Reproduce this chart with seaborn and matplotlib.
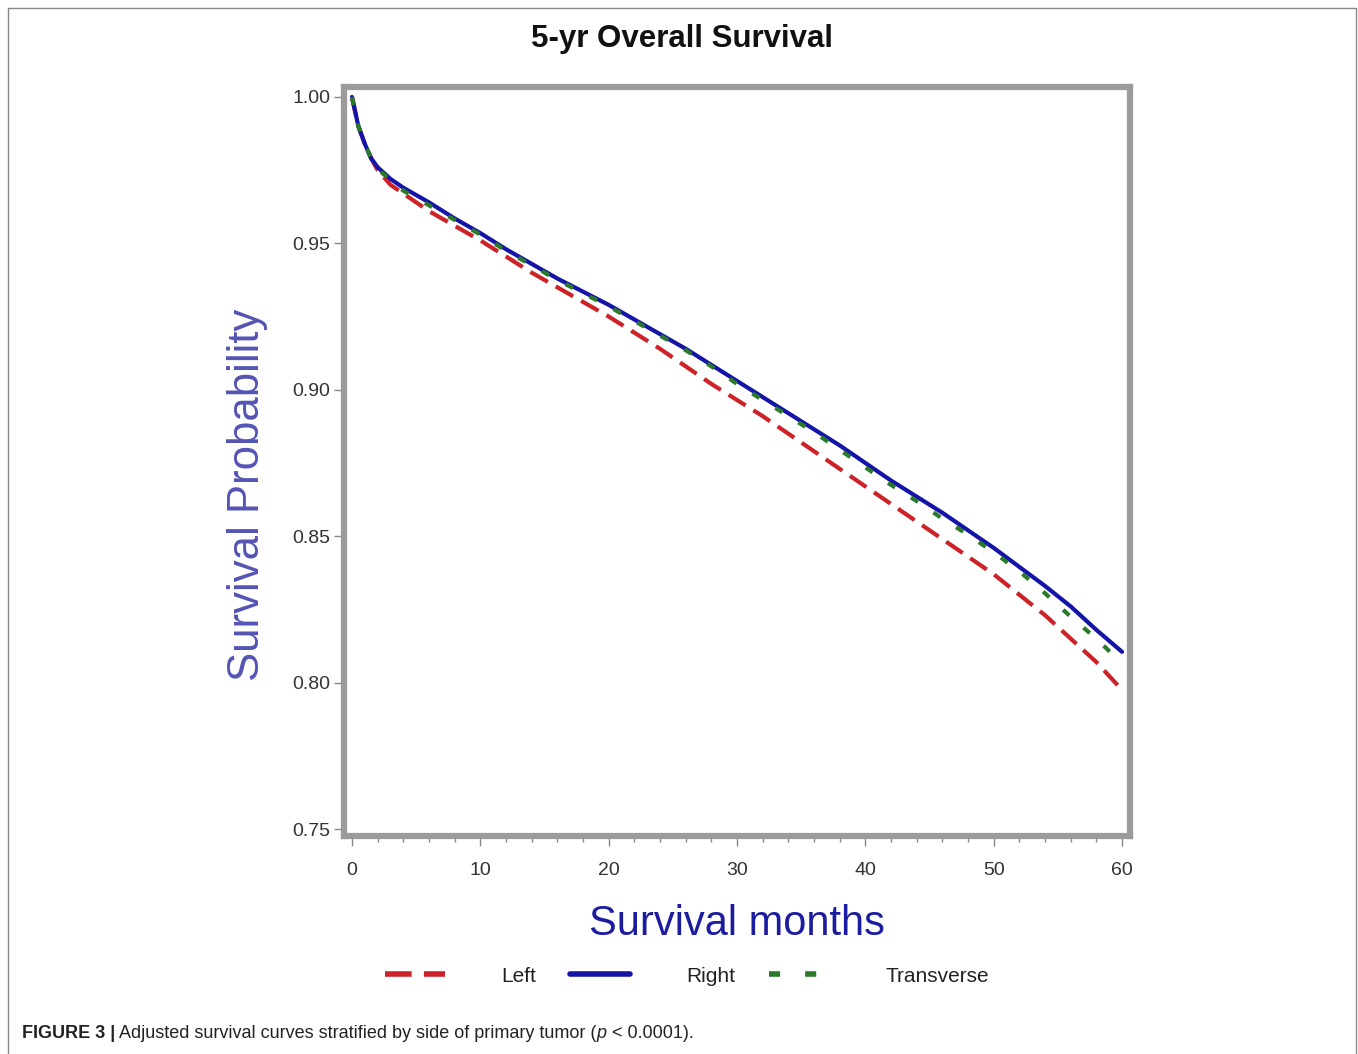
import matplotlib
matplotlib.use("Agg")
import matplotlib.pyplot as plt
from matplotlib.lines import Line2D
from matplotlib.ticker import MultipleLocator, FormatStrFormatter
import pandas as pd
import seaborn as sns

# survival months
months = [0, 0.5, 1, 1.5, 2, 3, 4, 6, 8, 10, 12, 14, 16, 18, 20, 22, 24, 26, 28, 30,
          32, 34, 36, 38, 40, 42, 44, 46, 48, 50, 52, 54, 56, 58, 60]

left = [1.000, 0.990, 0.984, 0.979, 0.975, 0.970, 0.967, 0.961, 0.956, 0.951,
        0.9455, 0.940, 0.935, 0.930, 0.925, 0.9195, 0.914, 0.908, 0.902, 0.8965,
        0.891, 0.885, 0.879, 0.873, 0.867, 0.861, 0.855, 0.849, 0.843, 0.837,
        0.830, 0.823, 0.815, 0.807, 0.7975]
right = [1.000, 0.990, 0.984, 0.979, 0.976, 0.972, 0.969, 0.964, 0.9585, 0.9535,
         0.948, 0.943, 0.938, 0.9335, 0.929, 0.924, 0.919, 0.914, 0.9085, 0.903,
         0.8975, 0.892, 0.8865, 0.881, 0.875, 0.869, 0.8635, 0.858, 0.852, 0.846,
         0.8395, 0.833, 0.826, 0.818, 0.8105]
transverse = [1.000, 0.990, 0.984, 0.979, 0.9755, 0.9715, 0.968, 0.963, 0.958, 0.953,
              0.9475, 0.9425, 0.9375, 0.933, 0.9285, 0.9235, 0.9185, 0.9135, 0.908, 0.902,
              0.8965, 0.891, 0.8855, 0.8795, 0.8735, 0.8675, 0.862, 0.856, 0.8505, 0.8445,
              0.838, 0.8305, 0.8225, 0.815, 0.8065]

sides = ["Left", "Right", "Transverse"]
colors = {"Left": "#cc2228", "Right": "#1414a8", "Transverse": "#2a7a2a"}
dashes = {"Left": (4.8, 2.2), "Right": "", "Transverse": (2, 4.5)}

df = pd.DataFrame({
    "month": months * 3,
    "surv": left + right + transverse,
    "Side": ["Left"] * len(months) + ["Right"] * len(months) + ["Transverse"] * len(months),
})

sns.set_theme(style="white")
plt.rcParams["font.family"] = ["Liberation Sans", "DejaVu Sans"]

fig = plt.figure(figsize=(13.58, 10.54), dpi=100)
ax = fig.add_axes([0.2533, 0.2068, 0.5788, 0.7107])

sns.lineplot(data=df, x="month", y="surv", hue="Side", style="Side",
             palette=colors, dashes=dashes, linewidth=3, legend=False, ax=ax)

ax.set_xlim(-0.62, 60.62)
ax.set_ylim(0.7476, 1.0034)
ax.xaxis.set_major_locator(MultipleLocator(10))
ax.xaxis.set_minor_locator(MultipleLocator(2))
ax.yaxis.set_major_locator(MultipleLocator(0.05))
ax.yaxis.set_major_formatter(FormatStrFormatter("%.2f"))
ax.tick_params(axis="both", which="major", direction="out", length=7, width=1,
               color="#888888", labelsize=14, labelcolor="#333333")
ax.tick_params(axis="y", which="major", left=True, pad=3)
ax.tick_params(axis="x", which="major", bottom=True, pad=12)
ax.tick_params(axis="x", which="minor", direction="out", length=4, width=1,
               color="#888888", bottom=True)
for sp in ax.spines.values():
    sp.set_color("#9a9c9c")
    sp.set_linewidth(4.5)

ax.set_xlabel("Survival months", fontsize=30, color="#1c1ca0", labelpad=18)
ax.set_ylabel("Survival Probability", fontsize=31.5, color="#5454b4")
ax.yaxis.set_label_coords(-0.097, 0.455)
fig.text(0.502, 0.963, "5-yr Overall Survival", ha="center", va="center",
         fontsize=22.5, fontweight="bold", color="#111111")

handles = [Line2D([], [], color=colors[s], linewidth=4,
                  linestyle=(0, dashes[s]) if dashes[s] else "-") for s in sides]
fig.legend(handles, sides, loc="center", bbox_to_anchor=(0.506, 0.074), ncol=3,
           frameon=False, fontsize=15, handlelength=2.9, handletextpad=2.7,
           columnspacing=1.6, labelcolor="#222222")

# figure border (left, top, right) and caption
for xs, ys in [([8, 8], [1054, 8]), ([8, 1356], [8, 8]), ([1356, 1356], [8, 1054])]:
    fig.add_artist(Line2D([x / 1358 for x in xs], [1 - y / 1054 for y in ys],
                          transform=fig.transFigure, color="#888888", linewidth=1))
t1 = fig.text(22 / 1358, 1 - 1033 / 1054, "FIGURE 3 |", fontsize=13,
              fontweight="bold", va="center", color="#222222")
t2 = ax.annotate(" Adjusted survival curves stratified by side of primary tumor (",
                 xy=(1, 0), xycoords=t1, va="bottom", fontsize=13, color="#222222",
                 annotation_clip=False)
t3 = ax.annotate("p", xy=(1, 0), xycoords=t2, va="bottom", fontsize=13,
                 fontstyle="italic", color="#222222", annotation_clip=False)
ax.annotate(" < 0.0001).", xy=(1, 0), xycoords=t3, va="bottom", fontsize=13,
            color="#222222", annotation_clip=False)

fig.savefig("out.png", dpi=100, facecolor="white")
